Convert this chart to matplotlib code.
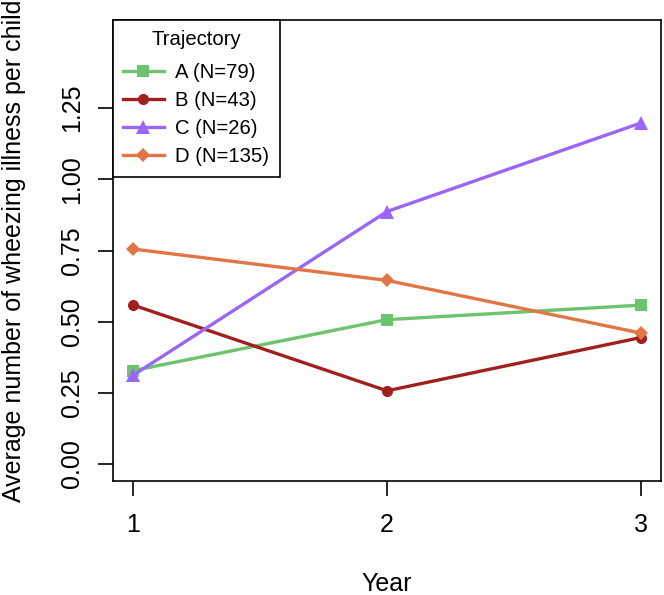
import matplotlib
matplotlib.use("Agg")
import matplotlib.pyplot as plt
from matplotlib.lines import Line2D

years = [1, 2, 3]
labels = ["A (N=79)", "B (N=43)", "C (N=26)", "D (N=135)"]
A = [0.328, 0.507, 0.558]
B = [0.558, 0.257, 0.444]
C = [0.312, 0.887, 1.198]
D = [0.755, 0.645, 0.460]
yticks = [0.00, 0.25, 0.50, 0.75, 1.00, 1.25]
ytick_labels = ["0.00", "0.25", "0.50", "0.75", "1.00", "1.25"]

series = [A, B, C, D]
colors = ["#6CC46C", "#A21F1F", "#9966F5", "#E07545"]
markers = ["s", "o", "^", "D"]
msizes = [8, 8, 10, 7]

plt.rcParams['font.family'] = ['Liberation Sans', 'DejaVu Sans']
FS = 18
LFS = 14.6

fig = plt.figure(figsize=(6.64, 5.95), dpi=100)
ax = fig.add_axes([113/664, 1-481/595, (661-113)/664, (481-20)/595])

for vals, c, m, ms in zip(series, colors, markers, msizes):
    ax.plot(years, vals, color=c, marker=m, markersize=ms, lw=2.4,
            markeredgewidth=0, clip_on=False)

ax.set_xlim(0.92, 3.08)
ax.set_ylim(-0.06, 1.56)
ax.set_xticks(years)
ax.set_xticklabels(["1", "2", "3"])
ax.set_yticks(yticks)
ax.set_yticklabels(ytick_labels, rotation=90, va='center')
ax.tick_params(axis='both', labelsize=FS, length=11, width=1.2, direction='out', pad=10)
ax.tick_params(axis='x', pad=12)
for s in ax.spines.values():
    s.set_linewidth(1.2)

ax.set_xlabel("Year", fontsize=FS, labelpad=25)
ax.set_ylabel("Average number of wheezing illness per child", fontsize=FS, labelpad=24)

handles = [Line2D([0], [0], color=c, marker=m, markersize=ms, lw=2.4, markeredgewidth=0)
           for c, m, ms in zip(colors, markers, msizes)]
leg = ax.legend(handles, labels, title="Trajectory", loc='upper left',
                bbox_to_anchor=(0, 1), fontsize=LFS, title_fontsize=LFS,
                frameon=True, fancybox=False, edgecolor='black', framealpha=1,
                borderaxespad=0, handlelength=2.0, handletextpad=0.58,
                labelspacing=0.45, borderpad=0.5)
leg._legend_box.sep = 10
leg.get_frame().set_linewidth(1.2)

fig.savefig("out.png", dpi=100)
